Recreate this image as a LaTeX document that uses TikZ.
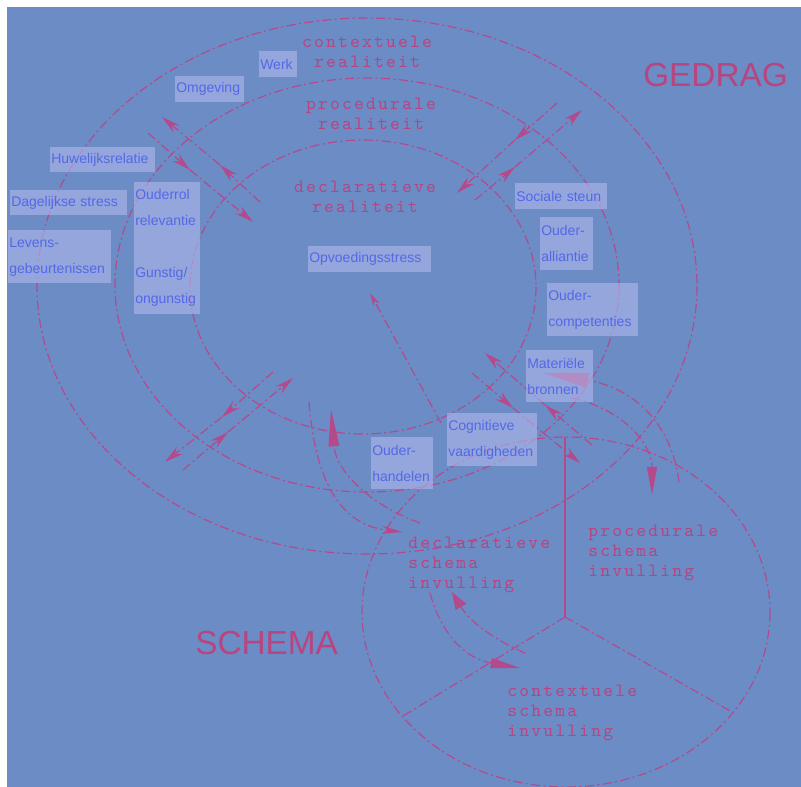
\documentclass[tikz,border=0pt]{standalone}
\usepackage{fontspec}
\setmainfont{Liberation Sans}
\newfontfamily\labelfont{lmmono10-regular.otf}[LetterSpace=11.8]
\usetikzlibrary{arrows.meta}

\definecolor{bgblue}{RGB}{108,140,198}
\definecolor{boxfill}{RGB}{176,184,236}
\definecolor{boxtext}{RGB}{84,104,230}
\definecolor{rose}{RGB}{180,74,140}
\definecolor{rosetext}{RGB}{184,68,128}

\tikzset{
  dashdot/.style={draw=rose, line width=0.9pt, dash pattern=on 7pt off 2.5pt on 1.5pt off 2.5pt},
  flow/.style={dashdot, -{Stealth[length=14pt,width=7pt]}},
  tbox/.style={fill=boxfill, fill opacity=0.6, text opacity=1, text=boxtext,
    font=\fontsize{10.5}{19.5}\selectfont, anchor=north west,
    inner xsep=0.75pt, inner ysep=0pt, align=left},
  reallabel/.style={text=rosetext, font=\labelfont\fontsize{14}{14.8}\selectfont,
    anchor=north, align=center, inner sep=0pt},
  schemalabel/.style={reallabel, anchor=north west, align=left},
  bigword/.style={text=rosetext, font=\fontsize{25}{25}\selectfont, anchor=base west, inner sep=0pt},
}

\begin{document}
\begin{tikzpicture}[x=0.75pt, y=-0.75pt]
\useasboundingbox (0,0) rectangle (801,787);
\fill[white] (0,0) rectangle (801,787);
\fill[bgblue] (7,7) rectangle (801,787);

% GEDRAG: three nested realities
\draw[dashdot] (367,286) ellipse [x radius=330, y radius=268];
\draw[dashdot] (367,285) ellipse [x radius=252, y radius=207];
\draw[dashdot] (363,287) ellipse [x radius=173, y radius=147];

% SCHEMA: circle in three sectors
\draw[dashdot] (566,612) ellipse [x radius=204, y radius=175];
\coordinate (sc) at (565,617);
\coordinate (stop) at (565,437);
\coordinate (sleft) at (403,716);
\coordinate (sright) at (732,712);
\draw[rose, line width=0.9pt] (sc) -- (stop);
\draw[dashdot] (sc) -- (sleft);
\draw[dashdot] (sc) -- (sright);

% exchanges across the reality boundaries
\coordinate (ulo1) at (260,202); \coordinate (ulo2) at (220,165); \coordinate (ulo3) at (162,117);
\coordinate (uli1) at (148,133); \coordinate (uli2) at (190,170); \coordinate (uli3) at (253,222);
\coordinate (uri1) at (557,103); \coordinate (uri2) at (515,140); \coordinate (uri3) at (457,193);
\coordinate (uro1) at (475,200); \coordinate (uro2) at (515,167); \coordinate (uro3) at (582,110);
\coordinate (llo1) at (273,372); \coordinate (llo2) at (222,417); \coordinate (llo3) at (165,462);
\coordinate (lli1) at (183,470); \coordinate (lli2) at (228,432); \coordinate (lli3) at (293,378);
\coordinate (lri1) at (592,445); \coordinate (lri2) at (545,405); \coordinate (lri3) at (485,353);
\coordinate (lro1) at (472,373); \coordinate (lro2) at (513,408); \coordinate (lro3) at (580,463);
\foreach \p in {ulo,uli,uri,uro,llo,lli,lri,lro}{
  \draw[flow] (\p1) -- (\p2);
  \draw[flow] (\p2) -- (\p3);
}

% towards Opvoedingsstress
\coordinate (cogtop) at (441,423);
\coordinate (stress) at (370,293);
\draw[dashdot, -{Stealth[length=10pt,width=5pt]}] (cogtop) -- (stress);

% declarative reality <-> declarative schema
\coordinate (d1a) at (309,402);
\coordinate (d1b) at (403,532);
\draw[dashdot, -{Stealth[length=16pt,width=6pt]}] (d1a) .. controls (316,490) and (345,526) .. (d1b);
\coordinate (d2a) at (420,523);
\coordinate (d2b) at (331,409);
\draw[dashdot, -{Triangle[length=28pt,width=8pt]}] (d2a) .. controls (372,506) and (336,472) .. (d2b);

% procedural reality <-> procedural schema
\coordinate (p1a) at (572,398);
\coordinate (p1b) at (652,495);
\draw[dashdot, -{Triangle[length=21pt,width=7.5pt]}] (p1a) .. controls (625,410) and (652,445) .. (p1b);
\coordinate (p2a) at (679,482);
\coordinate (p2b) at (543,373);
\draw[dashdot, -{Triangle[length=34pt,width=11pt]}] (p2a) .. controls (672,425) and (635,388) .. (p2b);

% declarative schema <-> contextual schema
\coordinate (s1a) at (430,593);
\coordinate (s1b) at (520,668);
\draw[dashdot, -{Triangle[length=22pt,width=7.5pt]}] (s1a) .. controls (440,630) and (462,658) .. (s1b);
\coordinate (s2a) at (525,653);
\coordinate (s2b) at (452,592);
\draw[dashdot, -{Triangle[length=13pt,width=9pt]}] (s2a) .. controls (495,640) and (470,622) .. (s2b);

% factors
\node[tbox, text width=27pt, minimum height=19.5pt] (werk) at (259,51) {Werk};
\node[tbox, text width=50.25pt, minimum height=19.5pt] (omgeving) at (175,76) {Omgeving};
\node[tbox, text width=77.25pt, minimum height=18.75pt] (huwelijk) at (50,147) {Huwelijksrelatie};
\node[tbox, text width=86.25pt, minimum height=18.75pt] (dagelijks) at (10,190) {Dagelijkse stress};
\node[tbox, text width=75.75pt, minimum height=39.75pt] (levens) at (8,230) {Levens-\\gebeurtenissen};
\node[tbox, text width=48pt, minimum height=99pt] (ouderrol) at (134,182) {Ouderrol\\relevantie\\[19.5pt]Gunstig/\\ongunstig};
\node[tbox, text width=90.75pt, minimum height=19.5pt] (opvoeding) at (308,246) {Opvoedingsstress};
\node[tbox, text width=67.5pt, minimum height=19.5pt] (sociaal) at (515,183) {Sociale steun};
\node[tbox, text width=38.25pt, minimum height=39.75pt] (alliantie) at (540,217) {Ouder-\\alliantie};
\node[tbox, text width=66.75pt, minimum height=39.75pt] (competentie) at (547,283) {Ouder-\\competenties};
\node[tbox, text width=48.75pt, minimum height=39pt] (materieel) at (526,350) {Materiële\\bronnen};
\node[tbox, text width=66pt, minimum height=39.75pt] (cognitief) at (447,413) {Cognitieve\\vaardigheden};
\node[tbox, text width=45pt, minimum height=39pt] (handelen) at (371,437) {Ouder-\\handelen};

% reality labels
\node[reallabel] (ctx) at (367,36) {contextuele\\realiteit};
\node[reallabel] (proc) at (371,98) {procedurale\\realiteit};
\node[reallabel] (decl) at (365,181) {declaratieve\\realiteit};

% schema labels
\node[schemalabel] (dschema) at (408,537) {declaratieve\\schema\\invulling};
\node[schemalabel] (pschema) at (588,525) {procedurale\\schema\\invulling};
\node[schemalabel] (cschema) at (507,685) {contextuele\\schema\\invulling};

\node[bigword] (gedrag) at (643,87) {GEDRAG};
\node[bigword] (schema) at (195,655) {SCHEMA};
\end{tikzpicture}
\end{document}
